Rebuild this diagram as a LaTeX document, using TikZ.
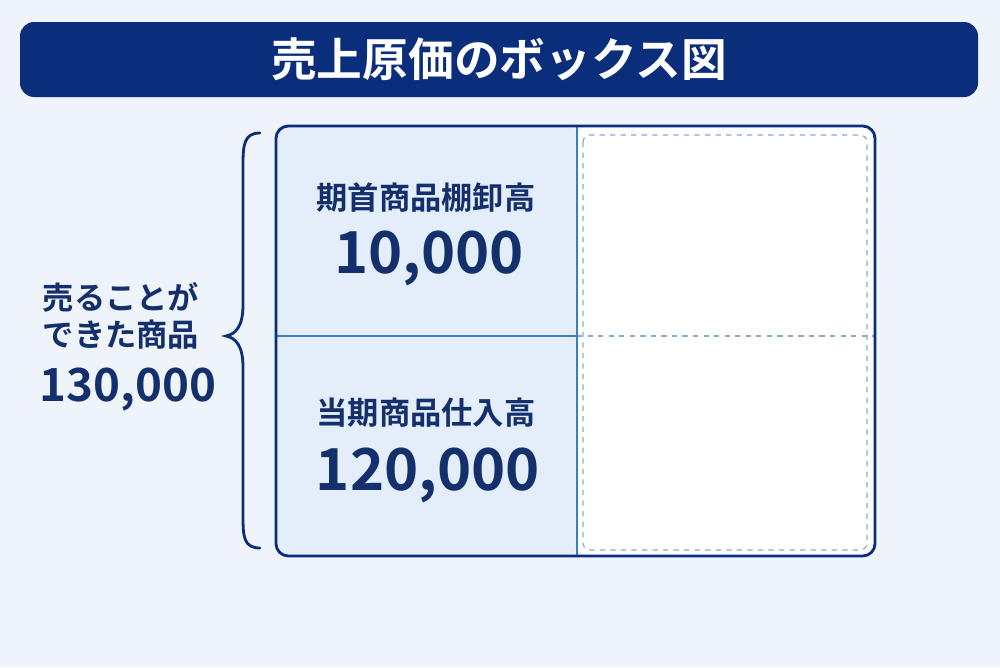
\documentclass[tikz,border=0pt]{standalone}
\usepackage{fontspec}
\setmainfont{Noto Sans CJK JP}
\newfontfamily\jpbold{Noto Sans CJK JP}[BoldFont={* Bold}]
\definecolor{navy}{HTML}{0B2E7C}
\definecolor{inkblue}{HTML}{14306C}
\definecolor{cellfill}{HTML}{E3EEFA}
\definecolor{midline}{HTML}{3C7EC6}
\definecolor{dashblue}{HTML}{86AADA}
\definecolor{bg}{HTML}{EFF3FA}

\begin{document}
\begin{tikzpicture}[x=0.02cm, y=-0.02cm,
    label/.style={text=inkblue, font=\jpbold\bfseries\fontsize{17.8}{20}\selectfont, inner sep=0pt},
    amount/.style={text=inkblue, font=\jpbold\bfseries\fontsize{33}{36}\selectfont, inner sep=0pt}]
    % background
    \fill[bg] (0,0) rectangle (1000,667);
    \useasboundingbox (0,0) rectangle (1000,667);
    % title bar
    \node (title) [fill=navy, rounded corners=8pt, minimum width=958*0.02cm, minimum height=75*0.02cm,
        text=white, font=\jpbold\bfseries\fontsize{26}{29}\selectfont] at (499, 59.5) {売上原価のボックス図};
    % box
    \fill[cellfill, rounded corners=7pt] (577,126) -| (276,556) -- (577,556) -- cycle;
    \fill[white, rounded corners=7pt] (577,126) -| (875,556) -- (577,556) -- cycle;
    \draw[dashblue, dashed, line width=0.7pt, rounded corners=4pt] (583,135) rectangle (867,550);
    \draw[dashblue, dashed, line width=0.7pt] (577,336) -- (875,336);
    \draw[midline, line width=0.9pt] (276,336) -- (577,336);
    \draw[midline, line width=0.9pt] (577,126) -- (577,556);
    \draw[navy, line width=1.6pt, rounded corners=7pt] (276,126) rectangle (875,556);
    % brace
    \draw[navy, line width=1.6pt, line cap=round]
        (260,133) .. controls (244,133) and (243,145) .. (243,165) -- (243,305)
        .. controls (243,326) and (236,334) .. (226,336)
        .. controls (236,338) and (243,346) .. (243,367) -- (243,517)
        .. controls (243,537) and (244,548) .. (260,548);
    % cell texts
    \node (head) [label] at (426,198) {期首商品棚卸高};
    \node (headamt) [amount] at (429,258) {10,000};
    \node (buy) [label] at (426,413) {当期商品仕入高};
    \node (buyamt) [amount] at (428,475) {120,000};
    % left side
    \node (sold1) [label] at (121,297) {売ることが};
    \node (sold2) [label] at (121,335) {できた商品};
    \node (soldamt) [amount, font=\jpbold\bfseries\fontsize{26}{28}\selectfont] at (128,390) {130,000};
\end{tikzpicture}
\end{document}
